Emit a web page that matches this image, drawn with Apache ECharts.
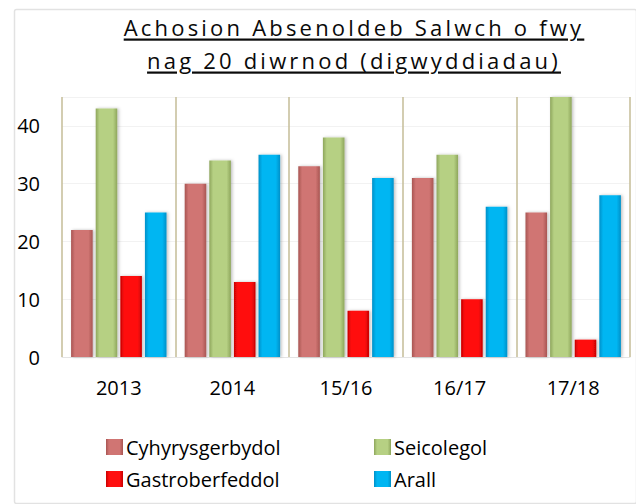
<!DOCTYPE html>
<html>
<head>
<meta charset="utf-8">
<script src="https://cdn.jsdelivr.net/npm/echarts@6/dist/echarts.min.js"></script>
<style>
html,body{margin:0;padding:0;background:#fff;}
#chart{width:636px;height:504px;}
</style>
</head>
<body>
<div id="chart"></div>
<script>
var titleLines = ['Achosion Absenoldeb Salwch o fwy', 'nag 20 diwrnod (digwyddiadau)'];
var categories = ['2013', '2014', '15/16', '16/17', '17/18'];
var seriesNames = ['Cyhyrysgerbydol', 'Seicolegol', 'Gastroberfeddol', 'Arall'];
var cyhyrysgerbydol = [22, 30, 33, 31, 25];
var seicolegol = [43, 34, 38, 35, 45];
var gastroberfeddol = [14, 13, 8, 10, 3];
var arall = [25, 35, 31, 26, 28];
var yTicks = [0, 10, 20, 30, 40];

function grad(edge, mid) {
  return {
    type: 'linear', x: 0, y: 0, x2: 1, y2: 0,
    colorStops: [
      {offset: 0, color: edge}, {offset: 0.18, color: mid},
      {offset: 0.8, color: mid}, {offset: 1, color: edge}
    ]
  };
}
var colors = [
  grad('#a85552', '#d07573'),
  grad('#8ea65c', '#b6d083'),
  grad('#c80000', '#ff1010'),
  grad('#0090c8', '#00b6f2')
];
var seriesData = [cyhyrysgerbydol, seicolegol, gastroberfeddol, arall];

var font = '"Open Sans", sans-serif';
var chart = echarts.init(document.getElementById('chart'), null, {renderer: 'svg'});

var series = seriesNames.map(function (n, i) {
  return {
    name: n,
    type: 'bar',
    data: seriesData[i],
    barGap: '14%',
    barCategoryGap: '16%',
    itemStyle: {
      color: colors[i],
      shadowColor: 'rgba(0,0,0,0.25)',
      shadowBlur: 3,
      shadowOffsetX: 1.5,
      shadowOffsetY: 0
    }
  };
});

chart.setOption({
  animation: false,
  backgroundColor: '#fff',
  graphic: [{
    type: 'rect', left: 12, top: 7, silent: true, z: -10,
    shape: {width: 622, height: 494, r: 2},
    style: {fill: 'none', stroke: '#e2e2e2', lineWidth: 1.5}
  }],
  title: {
    text: titleLines.join('\n'),
    left: 349,
    top: 5,
    textAlign: 'center',
    textStyle: {fontFamily: font, fontSize: 22, fontWeight: 'normal', color: '#0a0a0a', lineHeight: 33}
  },
  legend: [{
    data: [seriesNames[0], seriesNames[2]],
    orient: 'vertical', left: 106, top: 437, padding: 0,
    itemWidth: 17, itemHeight: 16, itemGap: 12, icon: 'rect',
    textStyle: {fontFamily: font, fontSize: 20, color: '#000', padding: [0, 0, 0, -2]}
  }, {
    data: [seriesNames[1], seriesNames[3]],
    orient: 'vertical', left: 374, top: 437, padding: 0,
    itemWidth: 17, itemHeight: 16, itemGap: 12, icon: 'rect',
    textStyle: {fontFamily: font, fontSize: 20, color: '#000', padding: [0, 0, 0, -2]}
  }],
  grid: {left: 62, right: 6, top: 97, bottom: 147, containLabel: false},
  xAxis: {
    type: 'category',
    data: categories,
    axisLine: {show: true, lineStyle: {color: '#e4e4e4', width: 1}},
    axisTick: {show: false},
    axisLabel: {fontFamily: font, fontSize: 20, color: '#000', margin: 20},
    splitLine: {show: true, lineStyle: {color: '#c4bd97', width: 1.5}}
  },
  yAxis: {
    type: 'value',
    min: yTicks[0],
    max: 45,
    interval: yTicks[1] - yTicks[0],
    axisLine: {show: false},
    axisTick: {show: false},
    axisLabel: {fontFamily: font, fontSize: 20, color: '#000', margin: 22, showMaxLabel: false},
    splitLine: {show: true, lineStyle: {color: '#f2f2f2', width: 1}}
  },
  series: series
});

function styleTitle() {
  var texts = document.querySelectorAll('#chart text');
  texts.forEach(function (t) {
    if (titleLines.indexOf(t.textContent) >= 0) {
      t.style.letterSpacing = '3.2px';
      t.style.textDecoration = 'underline';
    }
  });
}
styleTitle();
chart.on('finished', styleTitle);
</script>
</body>
</html>
